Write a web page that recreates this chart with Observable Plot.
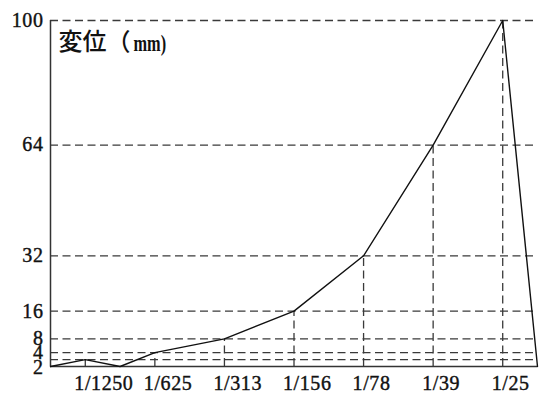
<!DOCTYPE html>
<html>
<head>
<meta charset="utf-8">
<script src="https://cdn.jsdelivr.net/npm/d3@7"></script>
<script src="https://cdn.jsdelivr.net/npm/@observablehq/plot@0.6"></script>
<style>
  html, body { margin: 0; padding: 0; background: #fff; }
  #chart { width: 540px; height: 394px; }
  /* slightly heavier, wider tick labels */
  #chart g[aria-label$="tick label"] text {
    stroke: #111;
    stroke-width: 0.4px;
    letter-spacing: 0.6px;
  }
</style>
</head>
<body>
<div id="chart"></div>
<script>
// Drift ratio categories along the bottom axis
const driftLabels = ["1/1250", "1/625", "1/313", "1/156", "1/78", "1/39", "1/25"];
const driftIndex = [0, 1, 2, 3, 4, 5, 6];
// Displacement (mm) reached at each drift step
const driftDisp = [2, 4, 8, 16, 32, 64, 100];

// Full loading path, including the start, the intermediate unload and the final drop
const pathX = [-0.5, 0, 0.5, 1, 2, 3, 4, 5, 6, 6.5];
const pathY = [0, 2, 0, 4, 8, 16, 32, 64, 100, 0];

// Reference levels marked on the vertical axis
const yTicks = [2, 4, 8, 16, 32, 64, 100];

// Axis title, in two runs: the CJK words and the half-width unit
const titleWords = "変位（";
const titleUnit = "mm)";

const path = pathX.map((x, i) => ({x, y: pathY[i]}));
const steps = driftIndex.map((x, i) => ({x, y: driftDisp[i]}));

const dash = "8,4.5";
const gridColor = "#3a3a3a";
const fontFamily = "'Liberation Serif', 'DejaVu Serif', serif";
const labelStyle = {fontSize: 20, fill: "#111", label: null, tickSize: 0};

const chart = Plot.plot({
  width: 540,
  height: 394,
  marginLeft: 50,
  marginRight: 3,
  marginTop: 20,
  marginBottom: 28,
  style: {fontFamily, fontSize: "20px", color: "#111", background: "#fff"},
  x: {type: "linear", domain: [-0.5, 6.5]},
  y: {domain: [0, 100]},
  marks: [
    // horizontal dashed reference lines
    Plot.ruleY(yTicks, {stroke: gridColor, strokeWidth: 1.3, strokeDasharray: dash}),
    // vertical dashed drops from each step down to the axis
    Plot.ruleX(steps, {x: "x", y1: 0, y2: "y", stroke: gridColor, strokeWidth: 1.3, strokeDasharray: dash}),
    // axis lines
    Plot.ruleY([0], {x1: -0.5, x2: 6.5, stroke: "#333", strokeWidth: 1.5}),
    Plot.ruleX([-0.5], {y1: 0, y2: 100, stroke: "#333", strokeWidth: 1.5}),
    // displacement path
    Plot.line(path, {x: "x", y: "y", stroke: "#111", strokeWidth: 1.4}),
    // axes: drift labels start just left of their tick
    Plot.axisX(driftIndex, {...labelStyle, tickPadding: 9, textAnchor: "start", dx: -11, tickFormat: i => driftLabels[i]}),
    Plot.axisY(yTicks.filter(d => d !== 2), {...labelStyle, tickPadding: 7}),
    // the lowest level label sits just under the crowded 4 / 8 labels
    Plot.axisY([2], {...labelStyle, tickPadding: 7, dy: 8}),
    // axis title inside the plot area
    Plot.text([titleWords], {
      frameAnchor: "top-left", dx: 8, dy: 12, textAnchor: "start", lineAnchor: "top",
      fontSize: 24, fontWeight: 500,
      fontFamily: "'Noto Sans CJK JP', sans-serif", fill: "#111"
    }),
    Plot.text([titleUnit], {
      frameAnchor: "top-left", dx: 83, dy: 13, textAnchor: "start", lineAnchor: "top",
      fontSize: 24, fontWeight: "bold", fontFamily, fill: "#111"
    })
  ]
});

document.getElementById("chart").appendChild(chart);

// the unit is set in narrow half-width letters: squeeze it about its left edge
d3.select(chart).selectAll("text")
  .filter(function () { return this.textContent === titleUnit; })
  .each(function () {
    const bx = this.getBBox().x;
    const t = this.getAttribute("transform") || "";
    this.setAttribute("transform", `${t} translate(${bx},0) scale(0.68,1) translate(${-bx},0)`);
  });
</script>
</body>
</html>
